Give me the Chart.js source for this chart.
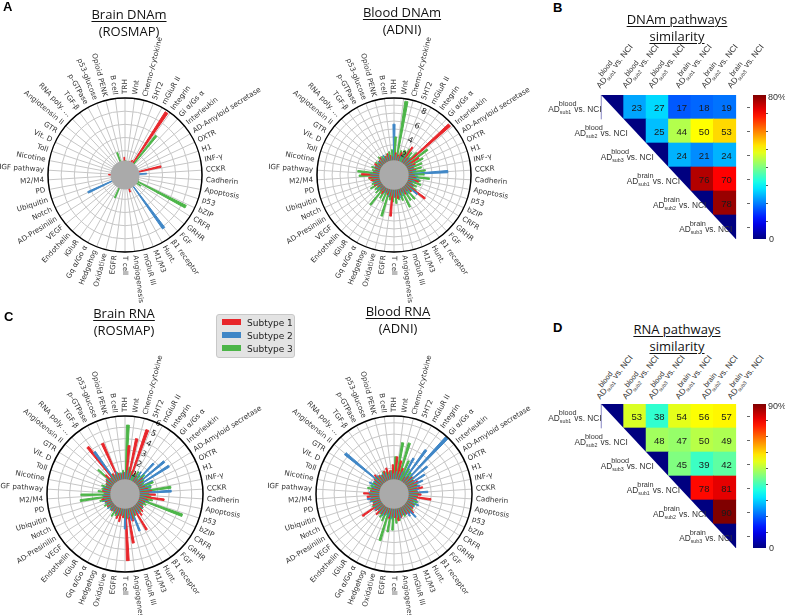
<!DOCTYPE html>
<html>
<head>
<meta charset="utf-8">
<script src="https://cdn.jsdelivr.net/npm/chart.js@4.4.1/dist/chart.umd.min.js"></script>
<style>
  body { margin: 0; background: #fff; }
  #fig { position: relative; width: 785px; height: 615px; overflow: hidden; font-family: "DejaVu Sans", sans-serif; color: #222; }
  canvas { position: absolute; }
  .abs { position: absolute; white-space: nowrap; }
  .panel { font-family: "Liberation Sans", Arial, sans-serif; font-weight: bold; font-size: 13px; line-height: 13px; color: #000; }
  .title { font-family: "Open Sans", sans-serif; font-size: 13px; line-height: 17px; text-align: center; width: 200px; color: #111; }
  .title u { text-decoration-thickness: 1px; text-underline-offset: 2px; }
  .legend { left: 216px; top: 314px; width: 77px; height: 42px; background: #e3e3e3; border: 1px solid #c8c8c8; border-radius: 3px; }
  .legend div { position: absolute; left: 5px; font-size: 9px; line-height: 13px; color: #222; }
  .legend span { display: inline-block; width: 19px; height: 6px; margin-right: 6px; vertical-align: 1px; }
  .lab { font-family: "Liberation Sans", Arial, sans-serif; font-size: 8.3px; line-height: 10px; color: #333; }
  .lab .st { position: relative; font-size: 5.3px; vertical-align: -1.5px; margin-right: 3px; }
  .lab .up { position: absolute; left: -1px; bottom: 6px; font-size: 7.3px; }
  .cbar { width: 13px; }
  .tk { width: 2px; height: 1px; background: #555; }
  .cb { font-family: "Liberation Sans", Arial, sans-serif; font-size: 9px; line-height: 10px; color: #333; }
</style>
</head>
<body>
<div id="fig">
  <div class="abs panel" style="left:3px;top:0px">A</div>
  <div class="abs panel" style="left:553px;top:1px">B</div>
  <div class="abs panel" style="left:4px;top:310px">C</div>
  <div class="abs panel" style="left:553px;top:321px">D</div>

  <div class="abs title" style="left:29px;top:6px"><u>Brain DNAm</u><br>(ROSMAP)</div>
  <div class="abs title" style="left:302px;top:4px"><u>Blood DNAm</u><br>(ADNI)</div>
  <div class="abs title" style="left:24px;top:305px"><u>Brain RNA</u><br>(ROSMAP)</div>
  <div class="abs title" style="left:298px;top:303px"><u>Blood RNA</u><br>(ADNI)</div>
  <div class="abs title" style="left:577px;top:11px"><u>DNAm pathways</u><br><u>similarity</u></div>
  <div class="abs title" style="left:577px;top:321px"><u>RNA pathways</u><br><u>similarity</u></div>

  <div class="abs legend">
    <div style="top:2px"><span style="background:#e8262b"></span>Subtype 1</div>
    <div style="top:15px"><span style="background:#3f86c6"></span>Subtype 2</div>
    <div style="top:28px"><span style="background:#4cb548"></span>Subtype 3</div>
  </div>
</div>

<script>
// ---- pathway categories, clockwise from the top ----
const categories = [
  'TRH', 'Wnt', 'Chemo-/cytokine', '5HT2', 'mGluR II', 'Integrin', 'Gi \u03b1/Gs \u03b1', 'Interleukin',
  'AD-Amyloid secretase', 'OXTR', 'H1', 'INF-\u03b3', 'CCKR', 'Cadherin', 'Apoptosis', 'p53', 'bZIP',
  'CRFR', 'GRHR', 'FGF', '\u03b21 receptor', 'Hunt.', 'M1/M3', 'mGluR III', 'Angiogenesis', 'T cell',
  'EGFR', 'Oxidative', 'Hedgehog', 'Gq \u03b1/Go \u03b1', 'iGluR', 'Endothelin', 'VEGF', 'AD-Presinilin',
  'Notch', 'Ubiquitin', 'PD', 'M2/M4', 'IGF pathway', 'Nicotine', 'Toll', 'Vit. D', 'GTR',
  'Angiotensin II', 'RNA poly. \u2026', 'TGF-\u03b2', 'p-GTPase', 'p53-glucose', 'Opioid PENK', 'B cell'
];
const subtypes = ['Subtype 1', 'Subtype 2', 'Subtype 3'];

// Brain DNAm (ROSMAP)
const brainDnamS1 = [2.0,1.2,1.0,1.5,1.8,10.7,1.2,1.0,0.8,1.0, 1.2,4.9,1.0,0.8,1.0,1.2,0.9,1.0,1.4,1.0, 1.1,0.8,1.0,2.0,1.2,1.0,0.9,1.0,1.1,0.8, 1.0,1.2,1.0,0.9,1.0,1.1,1.3,1.0,1.8,1.0, 0.9,1.0,1.1,0.8,1.0,1.2,1.0,0.9,1.0,1.4];
const brainDnamS2 = [1.0,0.8,1.2,1.0,0.9,1.1,1.0,1.2,0.8,1.0, 1.1,1.0,2.6,1.4,1.0,0.9,1.2,1.0,1.1,1.3, 9.3,1.0,1.2,0.9,1.0,1.1,1.0,0.8,1.2,1.0, 1.1,0.9,1.0,1.2,5.5,1.0,1.1,0.9,1.0,1.2, 1.0,0.8,1.1,1.0,0.9,1.2,1.0,1.1,1.0,0.9];
const brainDnamS3 = [1.5,1.0,1.2,1.0,1.4,6.9,1.1,1.0,1.2,0.9, 1.0,1.3,1.0,1.1,1.2,1.5,9.7,2.2,1.0,1.1, 1.0,1.2,0.9,1.0,1.1,1.0,1.2,1.4,3.1,1.0, 0.9,1.1,1.0,1.2,1.0,0.9,1.1,1.0,1.3,1.0, 1.2,1.0,1.1,0.9,1.0,1.2,1.0,2.9,1.0,1.1];

// Blood DNAm (ADNI)
const bloodDnamS1 = [1.5,2.0,1.8,2.2,2.5,3.4,2.0,8.6,3.0,2.2, 1.8,2.0,1.5,1.8,2.0,2.4,1.6,2.0,4.1,2.2, 1.8,2.0,1.6,1.8,2.2,2.0,4.4,2.0,1.8,1.6, 2.0,1.8,1.5,1.7,2.0,1.8,2.2,2.4,3.3,1.8, 1.6,1.8,2.0,1.6,1.8,2.0,1.6,1.8,2.0,1.7];
const bloodDnamS2 = [5.6,1.8,1.6,1.8,2.0,1.8,2.2,2.0,1.8,2.0, 1.8,2.0,6.0,2.2,2.4,2.0,1.8,2.0,3.0,2.0, 2.2,1.8,2.0,2.2,1.8,2.0,1.8,2.0,1.6,1.8, 1.6,1.8,2.0,1.6,1.8,2.0,1.8,2.0,2.2,1.8, 1.6,1.8,1.6,1.8,1.6,1.8,2.0,1.6,1.8,1.6];
const bloodDnamS3 = [4.0,8.6,2.4,2.6,3.0,2.8,3.2,4.5,3.4,3.0, 2.8,3.2,3.0,3.7,2.6,2.8,2.4,2.6,2.2,3.2, 3.0,3.7,2.6,2.4,2.8,2.6,2.4,4.6,2.8,2.6, 4.0,2.4,2.2,2.6,2.2,2.0,2.4,3.6,3.8,2.0, 2.2,1.8,2.0,1.8,2.2,2.0,1.8,2.0,2.2,2.4];

// Brain RNA (ROSMAP)
const brainRnaS1 = [1.0,3.4,4.1,5.1,1.2,1.0,0.8,1.2,1.0,0.8, 1.0,1.2,1.5,1.8,2.6,1.2,1.0,0.9,1.1,1.3, 1.5,2.8,1.2,1.6,3.5,5.0,1.2,1.6,1.4,1.0, 0.9,1.0,0.8,1.0,0.9,1.0,1.2,1.0,0.9,1.1, 1.0,0.9,1.0,1.2,1.5,4.4,1.2,4.0,1.0,0.9];
const brainRnaS2 = [1.0,1.2,1.0,0.9,1.0,1.5,2.8,3.6,3.7,1.8, 1.5,1.4,3.2,1.2,1.0,1.3,1.0,0.9,1.1,1.0, 1.2,1.0,2.6,1.5,1.2,2.2,1.0,0.9,1.1,1.0, 0.9,1.0,1.1,0.9,1.0,1.2,1.0,1.1,0.9,1.0, 1.1,0.9,1.0,1.2,1.0,3.7,1.0,1.2,0.9,1.0];
const brainRnaS3 = [5.2,1.5,1.2,1.0,1.4,1.2,1.5,1.2,1.0,1.8, 1.5,3.2,1.2,1.4,1.6,4.5,1.2,1.0,1.1,1.2, 1.0,1.2,1.4,1.0,1.3,1.2,1.0,1.1,1.2,1.4, 1.0,0.9,1.0,1.2,1.0,1.4,3.1,3.0,1.5,1.2, 1.3,1.0,1.1,2.3,1.0,1.2,1.0,1.1,1.0,1.2];

// Blood RNA (ADNI)
const bloodRnaS1 = [1.8,2.5,2.2,1.6,1.3,1.0,1.2,1.4,1.3,1.6, 1.4,1.8,1.3,1.6,2.5,1.3,1.0,1.2,1.3,1.6, 1.4,1.3,1.2,1.4,1.6,1.3,1.2,1.4,1.0,1.2, 1.3,1.6,1.4,2.6,1.3,1.2,1.4,1.6,1.9,1.3, 1.2,1.0,1.2,1.4,1.6,1.3,1.2,1.4,1.6,1.3];
const bloodRnaS2 = [1.0,1.2,1.0,1.3,2.8,4.0,6.0,3.0,2.4,2.0, 1.6,1.4,2.2,1.3,1.2,1.4,1.6,1.3,1.2,2.0, 1.6,1.3,1.2,1.4,1.3,1.2,1.4,1.3,1.2,1.4, 1.3,1.2,1.4,1.3,1.2,1.4,1.6,1.3,1.4,1.2, 1.3,1.6,1.3,4.8,1.4,1.2,1.3,1.2,1.0,1.2];
const bloodRnaS3 = [2.5,3.8,3.9,2.4,1.8,1.6,1.4,1.3,1.2,1.4, 1.3,1.2,1.4,1.3,1.2,1.4,1.3,1.2,1.4,1.3, 1.2,1.4,1.3,1.6,1.8,2.4,2.6,3.5,1.8,1.6, 1.4,1.2,1.3,1.4,1.2,1.3,1.2,1.4,1.3,1.6, 1.4,1.3,1.2,1.4,1.3,1.2,1.4,1.3,1.2,1.3];

// ---- similarity matrices (upper triangle, %; diagonal = 0) ----
const simLabels = [['blood','sub1'],['blood','sub2'],['blood','sub3'],['brain','sub1'],['brain','sub2'],['brain','sub3']];
const dnamSimilarity = [
  [0, 23, 27, 17, 18, 19],
  [0, 25, 44, 50, 53],
  [0, 24, 21, 24],
  [0, 76, 70],
  [0, 78],
  [0]
];
const rnaSimilarity = [
  [0, 53, 38, 54, 56, 57],
  [0, 48, 47, 50, 49],
  [0, 45, 39, 42],
  [0, 78, 81],
  [0, 90],
  [0]
];

const COLORS = ['#e8262b', '#3f86c6', '#4cb548'];
const fig = document.getElementById('fig');

function addCanvas(left, top, w, h) {
  const c = document.createElement('canvas');
  c.width = w; c.height = h;
  c.style.left = left + 'px'; c.style.top = top + 'px';
  c.style.width = w + 'px'; c.style.height = h + 'px';
  fig.insertBefore(c, fig.firstChild);
  return c;
}

function midAngle(arc) { return (arc.startAngle + arc.endAngle) / 2; }

// spokes, grey hub, outer ring and radial category labels, placed from the arcs the library laid out
const ringLabels = {
  id: 'ringLabels',
  beforeDatasetsDraw(chart, args, opts) {
    const ctx = chart.ctx, r = chart.scales.r, arcs = chart.getDatasetMeta(0).data;
    ctx.save();
    ctx.strokeStyle = '#c6c6c6';
    ctx.lineWidth = 1;
    for (let k = 0; k < opts.names.length; k++) {
      const a = midAngle(arcs[k * 3 + 1]);
      ctx.beginPath();
      ctx.moveTo(r.xCenter, r.yCenter);
      ctx.lineTo(r.xCenter + r.drawingArea * Math.cos(a), r.yCenter + r.drawingArea * Math.sin(a));
      ctx.stroke();
    }
    ctx.restore();
  },
  afterDatasetsDraw(chart, args, opts) {
    const ctx = chart.ctx, r = chart.scales.r;
    ctx.save();
    ctx.fillStyle = '#aaaaaa';
    ctx.beginPath();
    ctx.arc(r.xCenter, r.yCenter, r.getDistanceFromCenterForValue(opts.hub), 0, 2 * Math.PI);
    ctx.fill();
    ctx.restore();
  },
  afterDraw(chart, args, opts) {
    const ctx = chart.ctx, r = chart.scales.r, arcs = chart.getDatasetMeta(0).data;
    ctx.save();
    ctx.strokeStyle = '#000';
    ctx.lineWidth = 1.5;
    ctx.beginPath();
    ctx.arc(r.xCenter, r.yCenter, r.drawingArea, 0, 2 * Math.PI);
    ctx.stroke();
    ctx.font = '7.2px "DejaVu Sans"';
    ctx.fillStyle = '#333';
    ctx.textBaseline = 'middle';
    for (let k = 0; k < opts.names.length; k++) {
      const a = midAngle(arcs[k * 3 + 1]);
      let t = (a + Math.PI / 2) % (2 * Math.PI);
      if (t < 0) t += 2 * Math.PI;
      ctx.save();
      ctx.translate(r.xCenter, r.yCenter);
      if (t <= Math.PI + 1e-6) {
        ctx.rotate(a);
        ctx.textAlign = 'left';
        ctx.fillText(opts.names[k], r.drawingArea + 4, 0);
      } else {
        ctx.rotate(a + Math.PI);
        ctx.textAlign = 'right';
        ctx.fillText(opts.names[k], -(r.drawingArea + 4), 0);
      }
      ctx.restore();
    }
    ctx.restore();
  }
};

const START_GROUP = 4;   // the tick labels run along the edge of this group
function makePolar(cx, cy, s1, s2, s3, rMin, rMax, step, labelStep, hub, pad) {
  const n = categories.length;
  const values = [], colors = [], names = [], labels = [];
  for (let k = 0; k < n; k++) {
    const c = (k + START_GROUP) % n;
    names.push(categories[c]);
    [s1, s2, s3].forEach((s, j) => { values.push(s[c]); colors.push(COLORS[j]); labels.push(categories[c] + ' ' + subtypes[j]); });
  }
  const canvas = addCanvas(cx - 140, cy - 140, 280, 280);
  new Chart(canvas, {
    type: 'polarArea',
    data: { labels: labels, datasets: [{ data: values, backgroundColor: colors, borderColor: colors, borderWidth: 1 }] },
    options: {
      responsive: false,
      animation: false,
      layout: { padding: pad },
      plugins: { legend: { display: false }, tooltip: { enabled: false }, ringLabels: { names: names, hub: hub } },
      scales: {
        r: {
          min: rMin, max: rMax,
          startAngle: (START_GROUP - 0.5) * 360 / n,
          angleLines: { display: false },
          pointLabels: { display: false },
          grid: { circular: true, color: '#c6c6c6', lineWidth: 1 },
          ticks: {
            z: 2, stepSize: step, maxTicksLimit: 40, showLabelBackdrop: false, color: '#222',
            font: { family: 'DejaVu Sans', size: 8 },
            callback: (v) => (v > 0 && Math.abs(v / labelStep - Math.round(v / labelStep)) < 1e-6) ? String(Math.round(v)) : ''
          }
        }
      }
    },
    plugins: [ringLabels]
  });
}

makePolar(125, 175, brainDnamS1, brainDnamS2, brainDnamS3, -0.7, 11, 1, 2, 1.5, 57);
makePolar(394, 175, bloodDnamS1, bloodDnamS2, bloodDnamS3, -0.8, 8.9, 1, 2, 1.05, 57);
makePolar(125, 494, brainRnaS1, brainRnaS2, brainRnaS3, -0.9, 6, 0.5, 1, 0.4, 56);
makePolar(394, 494, bloodRnaS1, bloodRnaS2, bloodRnaS3, -0.8, 6.1, 0.5, 1, 0.5, 56);

// ---- similarity heatmaps ----
function jet(t) {
  const cl = (v) => Math.max(0, Math.min(1, v));
  const r = cl(1.5 - Math.abs(4 * t - 3)), g = cl(1.5 - Math.abs(4 * t - 2)), b = cl(1.5 - Math.abs(4 * t - 1));
  return 'rgb(' + Math.round(r * 255) + ',' + Math.round(g * 255) + ',' + Math.round(b * 255) + ')';
}

const cellText = {
  id: 'cellText',
  afterDatasetsDraw(chart) {
    const meta = chart.getDatasetMeta(1), ctx = chart.ctx;
    ctx.save();
    ctx.font = '9.5px "Liberation Sans"';
    ctx.fillStyle = '#1a1a1a';
    ctx.textAlign = 'center';
    ctx.textBaseline = 'middle';
    meta.data.forEach((el, i) => {
      const raw = chart.data.datasets[1].data[i];
      if (raw.v === 0) return;
      ctx.fillText(String(raw.v), el.x + 2, (el.y + el.base) / 2 + 1);
    });
    ctx.restore();
  }
};

function labelHtml(pair) {
  return 'AD<span class="st">' + pair[1] + '<span class="up">' + pair[0] + '</span></span>vs. NCI';
}

const BASE = 7.6;  // baseline offset inside a .lab box
function makeHeatmap(left, top, w, h, matrix, maxPct, colGap) {
  const n = matrix.length;
  const cells = [], cellColors = [];
  matrix.forEach((row, r) => row.forEach((v, j) => {
    cells.push({ x: r + j + 0.5, y: [r, r + 1], v: v });
    cellColors.push(jet(v / maxPct));
  }));
  const rowCenters = matrix.map((row, r) => r + 0.5);
  const canvas = addCanvas(left, top, w + 3, h);
  new Chart(canvas, {
    data: {
      datasets: [
        { type: 'line', data: [{ x: 0, y: 0 }, { x: n, y: n }], borderColor: 'rgba(0,0,0,0)', pointRadius: 0,
          fill: { value: n }, backgroundColor: '#fff', order: 0 },
        { type: 'bar', data: cells, backgroundColor: cellColors, borderWidth: 0, barPercentage: 1, categoryPercentage: 1, order: 1 }
      ]
    },
    options: {
      responsive: false, animation: false,
      layout: { padding: 0 },
      plugins: { legend: { display: false }, tooltip: { enabled: false } },
      scales: {
        x: { type: 'linear', min: 0, max: n, display: false, ticks: { stepSize: 1 } },
        y: {
          type: 'linear', min: 0, max: n, reverse: true, position: 'right',
          afterBuildTicks: (axis) => { axis.ticks = rowCenters.map((v) => ({ value: v })); },
          ticks: { display: false },
          border: { display: false },
          grid: { drawOnChartArea: false, drawTicks: true, tickLength: 3, color: '#666', lineWidth: 1 }
        }
      }
    },
    plugins: [cellText]
  });

  const cw = w / n, ch = h / n;
  simLabels.forEach((p, j) => {
    const d = document.createElement('div');
    d.className = 'abs lab';
    d.innerHTML = labelHtml(p);
    d.style.left = (left + j * cw + 10) + 'px';
    d.style.top = (top - colGap - BASE) + 'px';
    d.style.transformOrigin = '0 ' + BASE + 'px';
    d.style.transform = 'rotate(-52deg)';
    fig.appendChild(d);
  });
  simLabels.forEach((p, r) => {
    const d = document.createElement('div');
    d.className = 'abs lab';
    d.innerHTML = labelHtml(p);
    const baseY = top + r * ch + 17;
    d.style.left = (left + (baseY - top) * (w / h) - 7) + 'px';
    d.style.top = (baseY - BASE) + 'px';
    d.style.transform = 'translateX(-100%)';
    fig.appendChild(d);
  });
  const bar = document.createElement('div');
  bar.className = 'abs cbar';
  const stops = [];
  for (let i = 0; i <= 20; i++) stops.push(jet(1 - i / 20) + ' ' + (i * 5) + '%');
  bar.style.left = (left + w + 6) + 'px';
  bar.style.top = top + 'px';
  bar.style.height = h + 'px';
  bar.style.background = 'linear-gradient(to bottom,' + stops.join(',') + ')';
  fig.appendChild(bar);
  const nt = maxPct / 10;
  for (let i = 1; i < nt; i++) {
    const t = document.createElement('div');
    t.className = 'abs tk';
    t.style.left = (left + w + 19) + 'px';
    t.style.top = (top + h - i * h / nt) + 'px';
    fig.appendChild(t);
  }
  const hi = document.createElement('div');
  hi.className = 'abs cb';
  hi.textContent = maxPct + '%';
  hi.style.left = (left + w + 21) + 'px';
  hi.style.top = (top - 3) + 'px';
  fig.appendChild(hi);
  const lo = document.createElement('div');
  lo.className = 'abs cb';
  lo.textContent = '0';
  lo.style.left = (left + w + 22) + 'px';
  lo.style.top = (top + h - 5) + 'px';
  fig.appendChild(lo);
}

makeHeatmap(590, 95, 157, 144, dnamSimilarity, 80, 6);
makeHeatmap(590, 404, 157, 144, rnaSimilarity, 90, 4);
</script>
</body>
</html>
